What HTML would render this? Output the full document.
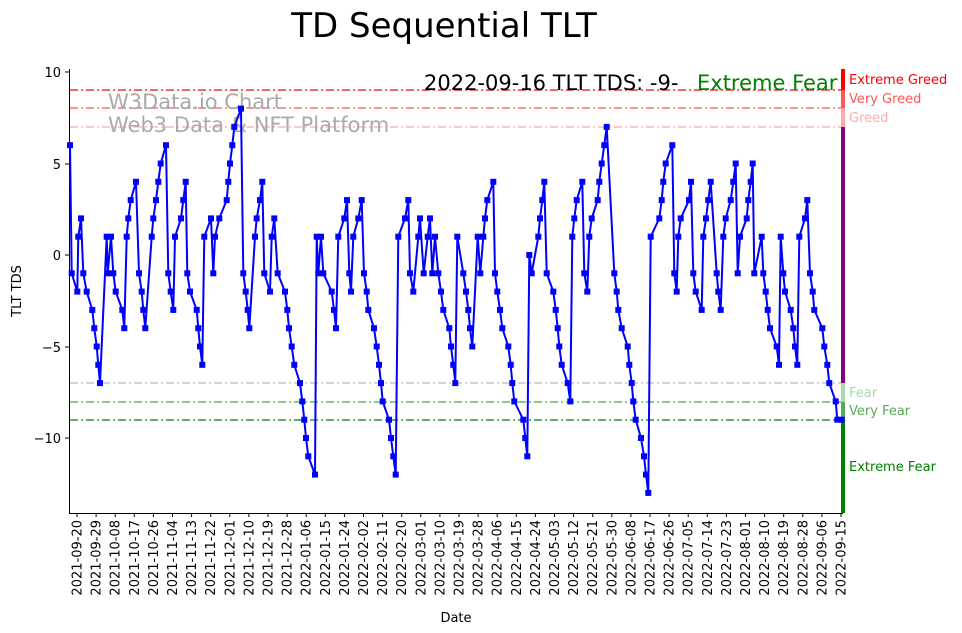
<!DOCTYPE html>
<html><head><meta charset="utf-8"><style>
html,body{margin:0;padding:0;background:#fff;}
svg{display:block;font-family:"DejaVu Sans","Liberation Sans",sans-serif;}
</style></head><body>
<svg width="962" height="633" viewBox="0 0 962 633" xmlns="http://www.w3.org/2000/svg">
<text x="444" y="37" font-size="34" text-anchor="middle">TD Sequential TLT</text>
<g stroke-width="1.2" stroke-dasharray="8,3,2,3">
<line x1="70" x2="843" y1="90" y2="90" stroke="#ff0000"/>
<line x1="70" x2="843" y1="108" y2="108" stroke="#ff5555"/>
<line x1="70" x2="843" y1="127" y2="127" stroke="#ffaaaa"/>
<line x1="70" x2="843" y1="383" y2="383" stroke="#bbbbbb"/>
<line x1="70" x2="843" y1="402" y2="402" stroke="#44aa44"/>
<line x1="70" x2="843" y1="420" y2="420" stroke="#008000"/>
</g>
<text x="108" y="109" font-size="21" fill="#aaaaaa">W3Data.io Chart</text>
<text x="108" y="132" font-size="21" fill="#aaaaaa">Web3 Data &amp; NFT Platform</text>
<text x="424" y="90" font-size="21">2022-09-16 TLT TDS: -9-</text>
<text x="697" y="90" font-size="21" fill="#008000">Extreme Fear</text>
<rect x="841" y="69" width="4" height="21" fill="#ff0000"/>
<rect x="841" y="90" width="4" height="18" fill="#ff5555"/>
<rect x="841" y="108" width="4" height="19" fill="#ffaaaa"/>
<rect x="841" y="127" width="4" height="256" fill="#800080"/>
<rect x="841" y="383" width="4" height="19" fill="#aad8aa"/>
<rect x="841" y="402" width="4" height="18" fill="#55aa55"/>
<rect x="841" y="420" width="4" height="93" fill="#008000"/>
<g font-size="13">
<text x="849" y="84" fill="#ff0000">Extreme Greed</text>
<text x="849" y="103" fill="#ff5555">Very Greed</text>
<text x="849" y="122" fill="#ffaaaa">Greed</text>
<text x="849" y="397" fill="#aad8aa">Fear</text>
<text x="849" y="415" fill="#55aa55">Very Fear</text>
<text x="849" y="471" fill="#008000">Extreme Fear</text>
</g>
<line x1="69.5" y1="69" x2="69.5" y2="513" stroke="#000" stroke-width="1"/>
<line x1="69" y1="513.5" x2="843" y2="513.5" stroke="#000" stroke-width="1"/>
<g stroke="#000"><line x1="65" x2="69" y1="72" y2="72"/><line x1="65" x2="69" y1="164" y2="164"/><line x1="65" x2="69" y1="255" y2="255"/><line x1="65" x2="69" y1="347" y2="347"/><line x1="65" x2="69" y1="438" y2="438"/></g>
<g font-size="13" text-anchor="end">
<text x="61" y="77">10</text><text x="61" y="169">5</text><text x="61" y="260">0</text><text x="61" y="352">−5</text><text x="61" y="443">−10</text>
</g>
<text transform="translate(21,291) rotate(-90)" font-size="13" text-anchor="middle">TLT TDS</text>
<text x="456" y="622" font-size="13" text-anchor="middle">Date</text>
<g id="xt" font-size="13"></g>
<polyline id="ser" fill="none" stroke="#0000ff" stroke-width="2" points=""/>
<g id="mk" fill="#0000ff"></g>
</svg>
<script>
var dates=["2021-09-20","2021-09-29","2021-10-08","2021-10-17","2021-10-26","2021-11-04","2021-11-13","2021-11-22","2021-12-01","2021-12-10","2021-12-19","2021-12-28","2022-01-06","2022-01-15","2022-01-24","2022-02-02","2022-02-11","2022-02-20","2022-03-01","2022-03-10","2022-03-19","2022-03-28","2022-04-06","2022-04-15","2022-04-24","2022-05-03","2022-05-12","2022-05-21","2022-05-30","2022-06-08","2022-06-17","2022-06-26","2022-07-05","2022-07-14","2022-07-23","2022-08-01","2022-08-10","2022-08-19","2022-08-28","2022-09-06","2022-09-15"];
var g=document.getElementById("xt"),s="";
for(var i=0;i<dates.length;i++){var x=77+i*19.1;
s+='<line x1="'+x+'" x2="'+x+'" y1="513" y2="517" stroke="#000"/>';
s+='<text transform="translate('+(x+4.5)+',520) rotate(-90)" text-anchor="end">'+dates[i]+'</text>';}
g.innerHTML=s;
var d=[70,6,71.7,-1,77.3,-2,78.3,1,81,2,83.3,-1,86.7,-2,92.3,-3,94.3,-4,96.7,-5,98.3,-6,100,-7,106.7,1,107.7,-1,111,1,113.3,-1,115.7,-2,122.3,-3,124.3,-4,126.7,1,128.3,2,130.7,3,136,4,139,-1,141.7,-2,143.3,-3,145.3,-4,151.7,1,153.3,2,156,3,158.3,4,160.7,5,166,6,168.3,-1,170.7,-2,173.3,-3,175,1,181,2,183.3,3,185.7,4,187.3,-1,190,-2,196.7,-3,198.3,-4,200,-5,202.3,-6,204.3,1,211,2,213.3,-1,215,1,219.3,2,226.7,3,228.3,4,230,5,232.3,6,234.3,7,241,8,243.3,-1,245.7,-2,247.7,-3,249.3,-4,255,1,256.7,2,260,3,262.3,4,264.3,-1,270,-2,271.7,1,274.3,2,277.7,-1,285,-2,287.3,-3,289,-4,291.7,-5,294.3,-6,300,-7,302.3,-8,304.3,-9,306,-10,308.3,-11,315,-12,316.7,1,318.3,-1,321,1,323.3,-1,331.7,-2,334,-3,336,-4,338.3,1,344.3,2,347,3,349.3,-1,351,-2,353.3,1,358.3,2,361.7,3,364,-1,366.7,-2,368.3,-3,374,-4,376.7,-5,379,-6,381,-7,382.7,-8,389,-9,391,-10,393.3,-11,395.7,-12,398.3,1,405,2,408.3,3,410,-1,413.3,-2,418.3,1,420,2,423.7,-1,427.7,1,430,2,432.3,-1,435,1,438.3,-1,441,-2,443.3,-3,449.3,-4,451,-5,453.3,-6,455.3,-7,457.3,1,463.3,-1,466,-2,468.3,-3,470,-4,472.3,-5,477.7,1,480.3,-1,483.3,1,485,2,487.3,3,493.3,4,495,-1,497.3,-2,500,-3,502.3,-4,508.3,-5,510.7,-6,512.3,-7,514.3,-8,523.3,-9,525.3,-10,527.3,-11,529.3,0,531.7,-1,538.3,1,540,2,542.3,3,544.3,4,546.7,-1,553.3,-2,555.7,-3,557.7,-4,559.3,-5,561.7,-6,567.7,-7,570.3,-8,572.3,1,574.3,2,576.7,3,582.3,4,584.3,-1,587.3,-2,589.3,1,591.7,2,597.7,3,599.3,4,601.7,5,604.3,6,606.7,7,614.3,-1,616.7,-2,618.3,-3,621.7,-4,627.7,-5,629.3,-6,631.7,-7,633.3,-8,635.7,-9,641,-10,644,-11,646,-12,648.3,-13,650.7,1,659.3,2,661.7,3,663.3,4,665.7,5,672.3,6,674.3,-1,676.7,-2,678.3,1,680.7,2,689,3,691,4,693.3,-1,695.7,-2,701.7,-3,703.3,1,706,2,708.3,3,710.7,4,716.7,-1,718.3,-2,720.7,-3,723.3,1,725.7,2,730.7,3,733.3,4,735.7,5,737.7,-1,740,1,746.7,2,748.3,3,750.7,4,752.7,5,754.3,-1,761.7,1,763.3,-1,765.7,-2,767.7,-3,770,-4,776.7,-5,779,-6,780.7,1,783.3,-1,785,-2,790.7,-3,793.3,-4,795,-5,797.3,-6,799.3,1,805,2,807.3,3,810,-1,812.7,-2,814.3,-3,822.3,-4,824.3,-5,827.3,-6,829.3,-7,835.7,-8,837.3,-9,841.7,-9];
var p=[],m="";
for(var j=0;j<d.length;j+=2){var x=d[j],y=255-18.3*d[j+1];p.push(x+","+y.toFixed(1));
m+='<rect x="'+(x-3)+'" y="'+(y-3)+'" width="6" height="6"/>';}
document.getElementById("ser").setAttribute("points",p.join(" "));
document.getElementById("mk").innerHTML=m;
</script>
</body></html>
